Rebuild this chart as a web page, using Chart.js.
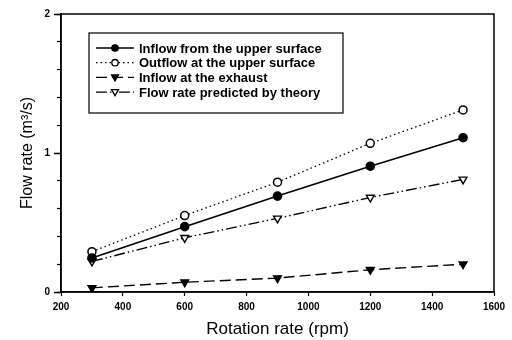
<!DOCTYPE html>
<html>
<head>
    <title>Flow rate vs rotation rate</title>
    <script src="https://cdn.jsdelivr.net/npm/chart.js"></script>
    <style>
        body { margin: 0; background: #fff; }
        #wrap { width: 512px; height: 340px; }
    </style>
</head>
<body>
    <div id="wrap"><canvas id="flowChart" width="512" height="340"></canvas></div>

    <script>
        // Data
        const rpm = [300, 600, 900, 1200, 1500];
        const inflowUpper = [0.245, 0.47, 0.69, 0.905, 1.11];
        const outflowUpper = [0.29, 0.55, 0.79, 1.07, 1.31];
        const inflowExhaust = [0.03, 0.07, 0.10, 0.16, 0.20];
        const theory = [0.22, 0.39, 0.53, 0.68, 0.81];
        const seriesNames = ['Inflow from the upper surface', 'Outflow at the upper surface',
                             'Inflow at the exhaust', 'Flow rate predicted by theory'];

        const FONT = 'Liberation Sans, Arial, sans-serif';

        function toPoints(ys) {
            return rpm.map((x, i) => ({ x: x, y: ys[i] }));
        }

        // frame around the plot + boxed legend inside it
        const framePlugin = {
            id: 'frame',
            afterDraw(chart) {
                const c = chart.ctx, a = chart.chartArea;
                c.save();
                c.strokeStyle = '#000';
                c.lineWidth = 1.5;
                c.strokeRect(a.left, a.top, a.right - a.left, a.bottom - a.top);

                // longer ticks for the labelled y values
                const ys = chart.scales.y;
                [0, 1, 2].forEach(v => {
                    const py = Math.round(ys.getPixelForValue(v)) + 0.5;
                    c.beginPath();
                    c.moveTo(a.left - 7, py);
                    c.lineTo(a.left, py);
                    c.stroke();
                });

                // legend box
                const bx = 89, by = 33, bw = 254, bh = 80;
                c.lineWidth = 1.2;
                c.strokeRect(bx, by, bw, bh);
                c.font = 'bold 13px ' + FONT;
                c.fillStyle = '#000';
                c.textBaseline = 'middle';
                chart.data.datasets.forEach((ds, i) => {
                    const y = 48 + i * 14.7;
                    c.beginPath();
                    c.setLineDash(ds.borderDash || []);
                    c.lineWidth = ds.borderWidth;
                    c.moveTo(96, y);
                    c.lineTo(134, y);
                    c.stroke();
                    c.setLineDash([]);
                    // marker
                    c.lineWidth = 1.3;
                    c.fillStyle = ds.pointBackgroundColor;
                    c.beginPath();
                    if (ds.pointStyle === 'circle') {
                        c.arc(115, y, 3.2, 0, Math.PI * 2);
                    } else {
                        c.moveTo(111.5, y - 2.5);
                        c.lineTo(118.5, y - 2.5);
                        c.lineTo(115, y + 3.5);
                        c.closePath();
                    }
                    c.fill();
                    c.stroke();
                    c.fillStyle = '#000';
                    c.fillText(ds.label, 139, y + 1);
                });
                c.restore();
            }
        };

        const ctx = document.getElementById('flowChart').getContext('2d');
        const chart = new Chart(ctx, {
            type: 'line',
            data: {
                datasets: [{
                    label: seriesNames[0],
                    data: toPoints(inflowUpper),
                    borderColor: '#000',
                    borderWidth: 1.6,
                    pointStyle: 'circle',
                    pointRadius: 4,
                    pointBackgroundColor: '#000',
                    pointBorderColor: '#000'
                }, {
                    label: seriesNames[1],
                    data: toPoints(outflowUpper),
                    borderColor: '#000',
                    borderWidth: 1.3,
                    borderDash: [1.5, 3],
                    pointStyle: 'circle',
                    pointRadius: 4,
                    pointBorderWidth: 1.5,
                    pointBackgroundColor: '#fff',
                    pointBorderColor: '#000'
                }, {
                    label: seriesNames[2],
                    data: toPoints(inflowExhaust),
                    borderColor: '#000',
                    borderWidth: 1.4,
                    borderDash: [11, 5],
                    pointStyle: 'triangle',
                    rotation: 180,
                    pointRadius: 4.5,
                    pointBackgroundColor: '#000',
                    pointBorderColor: '#000'
                }, {
                    label: seriesNames[3],
                    data: toPoints(theory),
                    borderColor: '#000',
                    borderWidth: 1.4,
                    borderDash: [11, 3, 1.5, 3, 1.5, 3],
                    pointStyle: 'triangle',
                    rotation: 180,
                    pointRadius: 4.5,
                    pointBorderWidth: 1.4,
                    pointBackgroundColor: '#fff',
                    pointBorderColor: '#000'
                }]
            },
            options: {
                responsive: false,
                animation: false,
                layout: { padding: { top: 14, right: 18, left: 0, bottom: 0 } },
                plugins: { legend: { display: false }, tooltip: { enabled: false } },
                scales: {
                    x: {
                        type: 'linear',
                        min: 200,
                        max: 1600,
                        ticks: {
                            stepSize: 200,
                            color: '#000',
                            font: { family: FONT, size: 10, weight: 'bold' },
                            padding: 5,
                            maxRotation: 0,
                            callback: v => String(v)
                        },
                        grid: { drawOnChartArea: false, tickLength: 4, color: '#000', tickWidth: 1.2 },
                        border: { color: '#000', width: 1.5 },
                        title: {
                            display: true,
                            text: 'Rotation rate (rpm)',
                            color: '#000',
                            font: { family: FONT, size: 17 },
                            padding: { top: 8, bottom: 0 }
                        },
                        afterFit(scale) { scale.height = 48; }
                    },
                    y: {
                        min: 0,
                        max: 2,
                        ticks: {
                            stepSize: 0.2,
                            color: '#000',
                            font: { family: FONT, size: 10, weight: 'bold' },
                            padding: 7,
                            callback: v => (Math.abs(v - Math.round(v)) < 1e-6 ? String(Math.round(v)) : '')
                        },
                        grid: { drawOnChartArea: false, tickLength: 4, color: '#000', tickWidth: 1.2 },
                        border: { color: '#000', width: 1.5 },
                        title: {
                            display: true,
                            text: 'Flow rate (m\u00b3/s)',
                            color: '#000',
                            font: { family: FONT, size: 16 },
                            padding: { top: 18, bottom: 0 }
                        },
                        afterFit(scale) { scale.width = 61; }
                    }
                }
            },
            plugins: [framePlugin]
        });
    </script>
</body>
</html>
